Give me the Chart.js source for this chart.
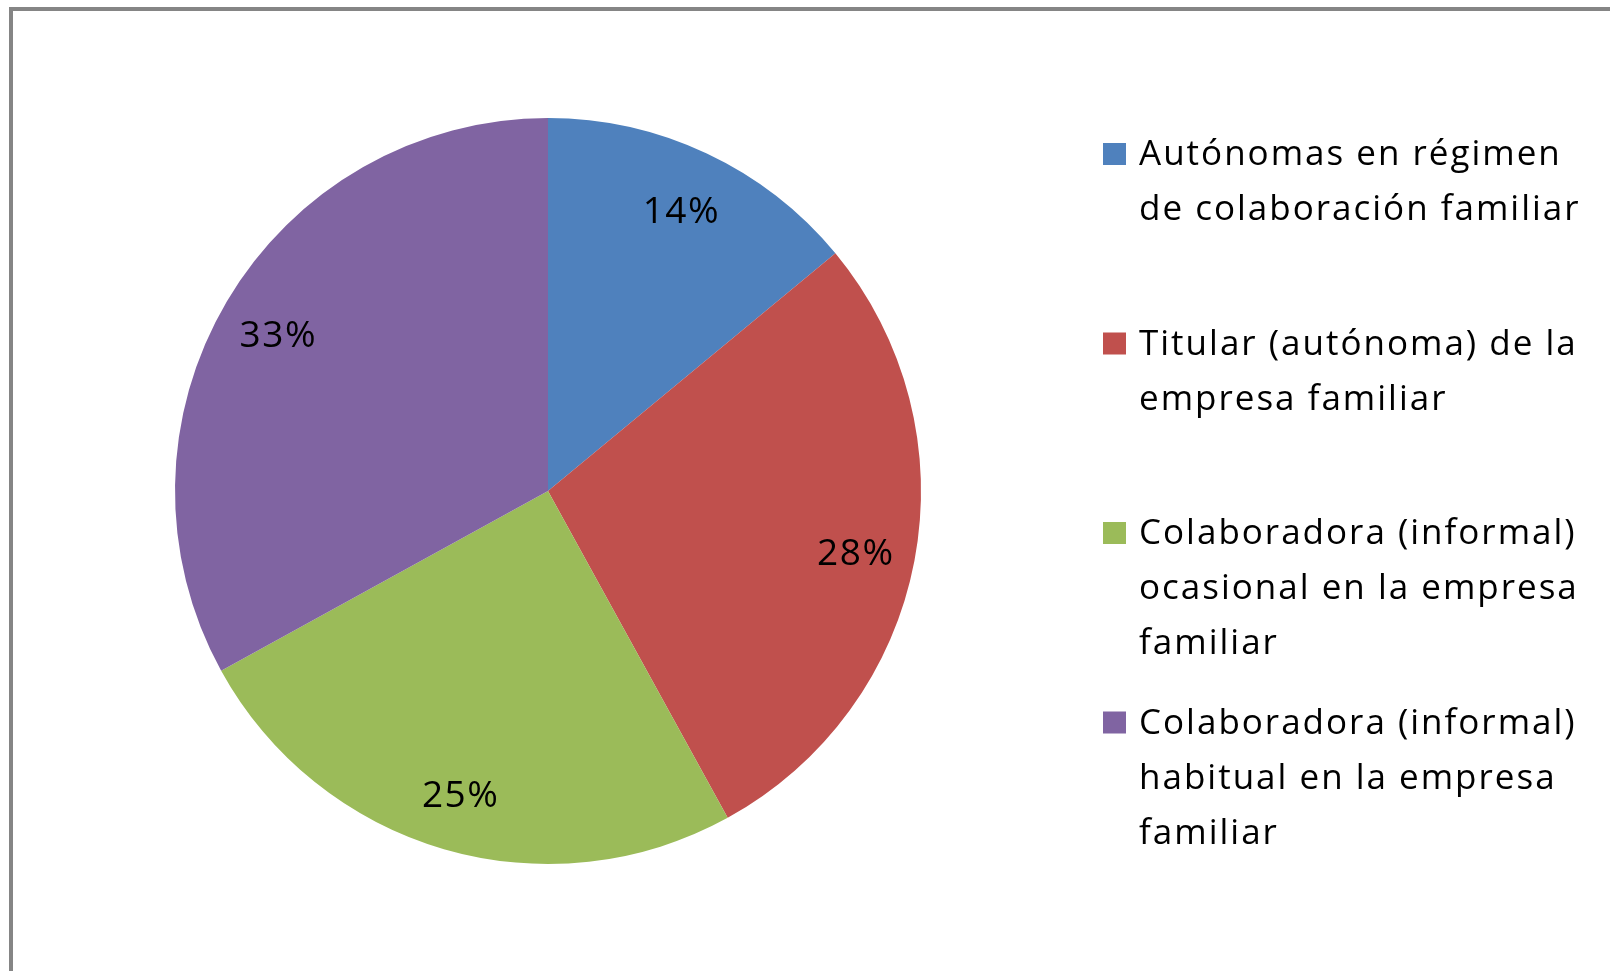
<!DOCTYPE html>
<html lang="es">
  <head>
    <meta charset="utf-8">
    <title>Situación laboral en la empresa familiar</title>
    <script src="https://cdn.jsdelivr.net/npm/chart.js@4.4.0/dist/chart.umd.min.js"></script>
    <style>
      body { margin: 0; background: #fff; }
      .frame {
        position: absolute; left: 9px; top: 7px;
        width: 1597px; height: 960px;
        border-top: 4px solid #858585; border-left: 4px solid #858585;
      }
    </style>
  </head>
  <body>
    <div class="frame">
      <canvas id="pieChart" width="1597" height="960"></canvas>
    </div>
    <script>
      // chart data
      const categories = [
        ["Autónomas en régimen", "de colaboración familiar"],
        ["Titular (autónoma) de la", "empresa familiar"],
        ["Colaboradora (informal)", "ocasional en la empresa", "familiar"],
        ["Colaboradora (informal)", "habitual en la empresa", "familiar"]
      ];
      const percentages = [14, 28, 25, 33];
      const sliceColors = ["#4F81BD", "#C0504D", "#9BBB59", "#8064A2"];

      const FONT = "'Open Sans', Lato, sans-serif";

      // percent labels inside the slices
      const sliceLabels = {
        id: "sliceLabels",
        afterDatasetsDraw(chart) {
          const ctx = chart.ctx;
          const meta = chart.getDatasetMeta(0);
          ctx.save();
          ctx.fillStyle = "#000";
          ctx.font = "37px " + FONT;
          ctx.letterSpacing = "1.5px";
          ctx.textAlign = "center";
          ctx.textBaseline = "middle";
          meta.data.forEach((arc, i) => {
            const p = arc.getProps(["x", "y", "startAngle", "endAngle", "outerRadius"], true);
            const mid = (p.startAngle + p.endAngle) / 2;
            const r = p.outerRadius * 0.84;
            ctx.fillText(percentages[i] + "%", p.x + Math.cos(mid) * r, p.y + Math.sin(mid) * r + 5);
          });
          ctx.restore();
        }
      };

      // legend on the right, with wrapped names
      const sideLegend = {
        id: "sideLegend",
        afterDraw(chart) {
          const ctx = chart.ctx;
          const left = 1090, top = 132, step = 189.5, lineH = 55;
          ctx.save();
          ctx.font = "35px " + FONT;
          ctx.letterSpacing = "2px";
          ctx.textBaseline = "alphabetic";
          ctx.textAlign = "left";
          categories.forEach((lines, i) => {
            const y = top + i * step;
            ctx.fillStyle = sliceColors[i];
            ctx.fillRect(left, y, 23, 22);
            ctx.fillStyle = "#000";
            lines.forEach((line, j) => {
              ctx.fillText(line, left + 36, y + 22 + j * lineH);
            });
          });
          ctx.restore();
        }
      };

      new Chart(document.getElementById("pieChart"), {
        type: "pie",
        data: {
          labels: categories,
          datasets: [{
            data: percentages,
            backgroundColor: sliceColors,
            borderWidth: 0
          }]
        },
        options: {
          responsive: false,
          animation: false,
          layout: { padding: { left: 162, right: 689, top: 107, bottom: 107 } },
          plugins: {
            legend: { display: false },
            tooltip: { enabled: false }
          }
        },
        plugins: [sliceLabels, sideLegend]
      });
    </script>
  </body>
</html>
